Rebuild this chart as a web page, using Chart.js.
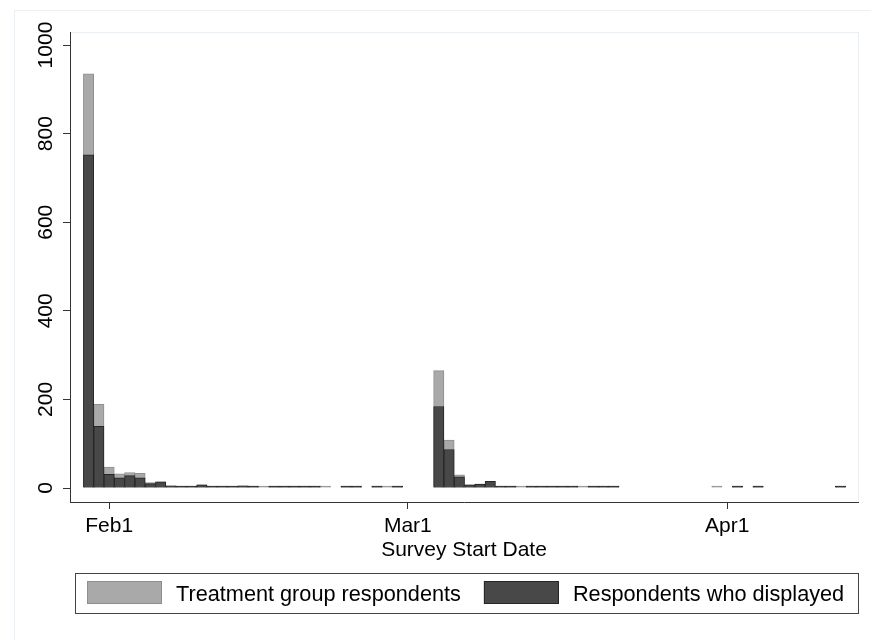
<!DOCTYPE html>
<html>
<head>
<meta charset="utf-8">
<title>Survey Start Date</title>
<script src="https://cdn.jsdelivr.net/npm/chart.js@4.4.1/dist/chart.umd.min.js"></script>
<style>
  body { margin: 0; background: #fff; }
</style>
</head>
<body>
<canvas id="histChart" width="871" height="640"></canvas>
<script>
// survey start dates (2020), one bar per day
var dates = ['2020-01-30','2020-01-31','2020-02-01','2020-02-02','2020-02-03','2020-02-04','2020-02-05',
  '2020-02-06','2020-02-07','2020-02-08','2020-02-09','2020-02-10','2020-02-11','2020-02-12','2020-02-13',
  '2020-02-14','2020-02-15','2020-02-16','2020-02-17','2020-02-18','2020-02-19','2020-02-20','2020-02-21',
  '2020-02-22','2020-02-24','2020-02-25','2020-02-27','2020-02-28','2020-02-29',
  '2020-03-04','2020-03-05','2020-03-06','2020-03-07','2020-03-08','2020-03-09','2020-03-10','2020-03-11',
  '2020-03-12','2020-03-13','2020-03-14','2020-03-15','2020-03-16','2020-03-17','2020-03-18','2020-03-19',
  '2020-03-20','2020-03-21','2020-03-31','2020-04-02','2020-04-04','2020-04-12'];
var treatment = [935,189,47,32,35,33,12,14,5,3,4,7,4,3,2,5,2,1,1,1,1,1,1,1,1,1,1,1,1,
  265,108,30,7,9,15,2,1,1,1,1,1,1,1,1,1,1,1,1,1,1,1];
var displayed = [752,139,31,23,28,23,10,14,5,3,3,7,3,3,1,5,2,null,1,1,1,1,1,null,1,1,1,null,1,
  184,87,25,7,9,15,2,1,null,1,1,1,1,1,null,1,1,1,null,1,1,1];
var labels = ['Treatment group respondents', 'Respondents who displayed'];
var xTickDates = ['2020-02-01', '2020-03-01', '2020-04-01'];
var xTickLabels = ['Feb1', 'Mar1', 'Apr1'];
var yTicks = [0, 200, 400, 600, 800, 1000];

var fontFamily = '"Liberation Sans", Arial, Helvetica, sans-serif';
Chart.defaults.font.family = fontFamily;
Chart.defaults.font.size = 21;
Chart.defaults.color = '#000';

// days since Feb 1
function dayNum(s) {
  return (Date.parse(s) - Date.parse('2020-02-01')) / 86400000;
}
function points(vals) {
  return dates.map(function(d, i) { return {x: dayNum(d), y: vals[i]}; });
}

// faint frames + rotated y labels + boxed legend
var stataBits = {
  id: 'stataBits',
  beforeDraw: function(chart) {
    var c = chart.ctx, a = chart.chartArea;
    c.save();
    c.strokeStyle = '#e9eff2';
    c.lineWidth = 1;
    c.strokeRect(14.5, 10.5, 880, 650);
    c.strokeRect(a.left + 0.5, a.top + 0.5, a.right - a.left, a.bottom - a.top);
    c.restore();
  },
  afterDraw: function(chart) {
    var c = chart.ctx, ys = chart.scales.y;
    c.save();
    c.font = '21px ' + fontFamily;
    c.fillStyle = '#000';
    c.textAlign = 'center';
    c.textBaseline = 'middle';
    yTicks.forEach(function(v) {
      c.save();
      c.translate(46, ys.getPixelForValue(v));
      c.rotate(-Math.PI / 2);
      c.fillText(String(v), 0, 0);
      c.restore();
    });

    // legend box
    var boxL = 75, boxT = 573, boxW = 783, boxH = 40;
    c.font = '21.7px ' + fontFamily;
    c.strokeStyle = '#444';
    c.lineWidth = 1;
    c.strokeRect(boxL + 0.5, boxT + 0.5, boxW, boxH);
    var x = boxL + 12;
    c.textAlign = 'left';
    chart.data.datasets.forEach(function(ds) {
      c.fillStyle = ds.backgroundColor;
      c.fillRect(x, boxT + 8, 75, 23);
      c.strokeStyle = ds.borderColor;
      c.strokeRect(x + 0.5, boxT + 8.5, 74, 22);
      c.fillStyle = '#000';
      c.fillText(ds.label, x + 89, boxT + 22);
      x += 89 + c.measureText(ds.label).width + 23;
    });
    c.restore();
  }
};

new Chart(document.getElementById('histChart'), {
  type: 'bar',
  data: {
    datasets: [{
      label: labels[0],
      data: points(treatment),
      backgroundColor: '#a9a9a9',
      borderColor: '#8e8e8e',
      borderWidth: 1,
      order: 2
    }, {
      label: labels[1],
      data: points(displayed),
      backgroundColor: '#484848',
      borderColor: '#262626',
      borderWidth: 1,
      order: 1
    }]
  },
  plugins: [stataBits],
  options: {
    responsive: false,
    animation: false,
    layout: { padding: { left: 0, right: 13, top: 32, bottom: 68 } },
    datasets: {
      bar: { grouped: false, barPercentage: 1, categoryPercentage: 1, minBarLength: 2 }
    },
    plugins: { legend: { display: false }, tooltip: { enabled: false } },
    scales: {
      x: {
        type: 'linear',
        offset: false,
        min: -3.8,
        max: 72.7,
        afterBuildTicks: function(s) {
          s.ticks = xTickDates.map(function(d) { return {value: dayNum(d)}; });
        },
        afterFit: function(s) { s.height = 70; },
        ticks: {
          padding: 5,
          maxRotation: 0,
          callback: function(v, i) { return xTickLabels[i]; }
        },
        grid: { offset: false, drawOnChartArea: false, tickLength: 7, color: '#333' },
        border: { color: '#333' },
        title: { display: true, text: 'Survey Start Date', padding: { top: 0, bottom: 9 } }
      },
      y: {
        min: -31.6,
        max: 1029.4,
        afterBuildTicks: function(s) {
          s.ticks = yTicks.map(function(v) { return {value: v}; });
        },
        afterFit: function(s) { s.width = 70; },
        ticks: { display: false },
        grid: { drawOnChartArea: false, tickLength: 7, color: '#333' },
        border: { color: '#333' }
      }
    }
  }
});
</script>
</body>
</html>
